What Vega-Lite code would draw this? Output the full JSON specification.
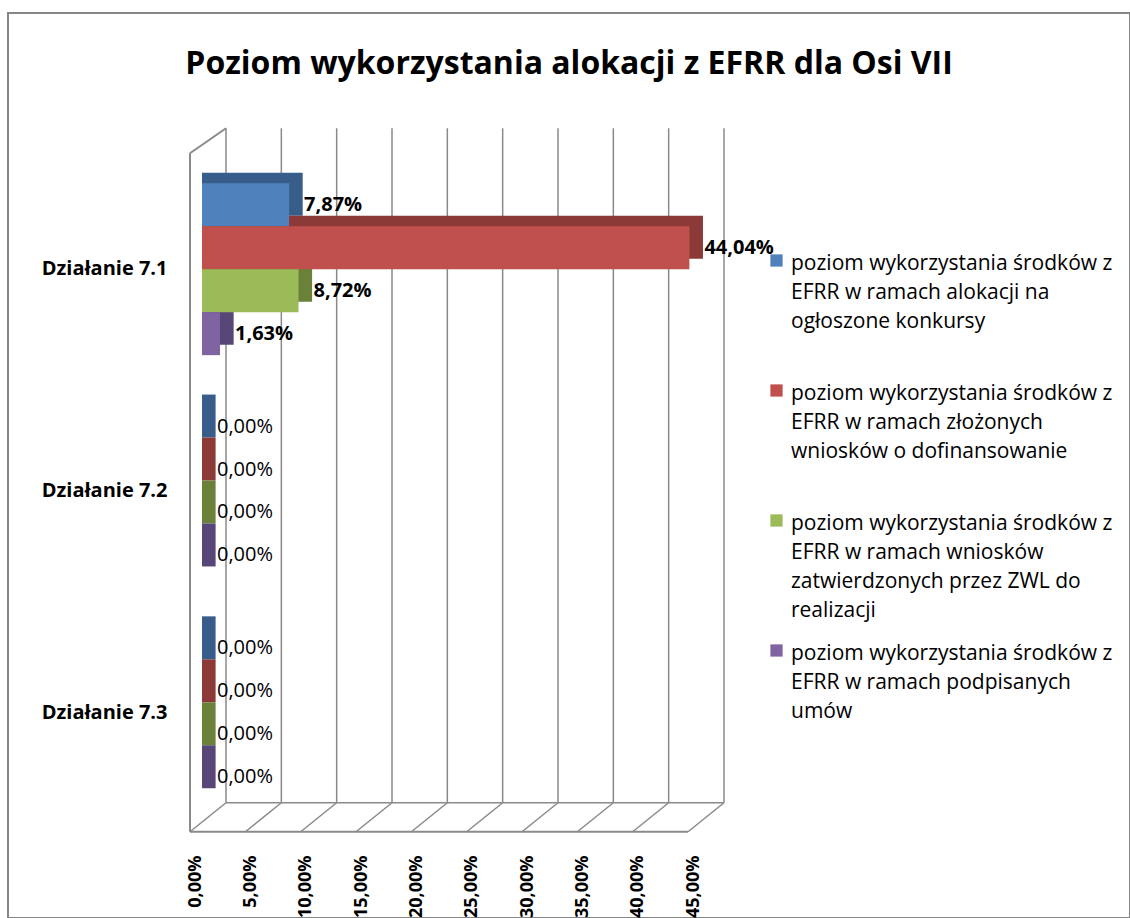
{
  "$schema": "https://vega.github.io/schema/vega-lite/v6.json",
  "width": 1122,
  "height": 905,
  "autosize": {"type": "none"},
  "padding": {"left": 8, "top": 13, "right": 0, "bottom": 0},
  "background": "white",
  "config": {
    "view": {"stroke": "#868686", "strokeWidth": 2},
    "font": "Open Sans",
    "locale": {"number": {"decimal": ",", "thousands": " ", "grouping": [3], "currency": ["", " zł"]}},
    "style": {"guide-label": {"lineHeight": 29}}
  },
  "title": {
    "text": "Poziom wykorzystania alokacji z EFRR dla Osi VII",
    "font": "Open Sans",
    "fontSize": 32,
    "fontWeight": "bold",
    "color": "#000000",
    "anchor": "middle",
    "frame": "group",
    "offset": -68
  },
  "datasets": {
    "bars": [
      {"dzialanie": "Działanie 7.1", "seria": "poziom wykorzystania środków z\nEFRR w ramach alokacji na\nogłoszone konkursy", "wartosc": 0.0787},
      {"dzialanie": "Działanie 7.1", "seria": "poziom wykorzystania środków z\nEFRR w ramach złożonych\nwniosków o dofinansowanie", "wartosc": 0.4404},
      {"dzialanie": "Działanie 7.1", "seria": "poziom wykorzystania środków z\nEFRR w ramach wniosków\nzatwierdzonych przez ZWL do\nrealizacji", "wartosc": 0.0872},
      {"dzialanie": "Działanie 7.1", "seria": "poziom wykorzystania środków z\nEFRR w ramach podpisanych\numów", "wartosc": 0.0163},
      {"dzialanie": "Działanie 7.2", "seria": "poziom wykorzystania środków z\nEFRR w ramach alokacji na\nogłoszone konkursy", "wartosc": 0},
      {"dzialanie": "Działanie 7.2", "seria": "poziom wykorzystania środków z\nEFRR w ramach złożonych\nwniosków o dofinansowanie", "wartosc": 0},
      {"dzialanie": "Działanie 7.2", "seria": "poziom wykorzystania środków z\nEFRR w ramach wniosków\nzatwierdzonych przez ZWL do\nrealizacji", "wartosc": 0},
      {"dzialanie": "Działanie 7.2", "seria": "poziom wykorzystania środków z\nEFRR w ramach podpisanych\numów", "wartosc": 0},
      {"dzialanie": "Działanie 7.3", "seria": "poziom wykorzystania środków z\nEFRR w ramach alokacji na\nogłoszone konkursy", "wartosc": 0},
      {"dzialanie": "Działanie 7.3", "seria": "poziom wykorzystania środków z\nEFRR w ramach złożonych\nwniosków o dofinansowanie", "wartosc": 0},
      {"dzialanie": "Działanie 7.3", "seria": "poziom wykorzystania środków z\nEFRR w ramach wniosków\nzatwierdzonych przez ZWL do\nrealizacji", "wartosc": 0},
      {"dzialanie": "Działanie 7.3", "seria": "poziom wykorzystania środków z\nEFRR w ramach podpisanych\numów", "wartosc": 0}
    ],
    "grid": [{"v": 0}, {"v": 0.05}, {"v": 0.1}, {"v": 0.15}, {"v": 0.2}, {"v": 0.25}, {"v": 0.3}, {"v": 0.35}, {"v": 0.4}, {"v": 0.45}]
  },
  "resolve": {"scale": {"color": "independent", "yOffset": "independent"}},
  "layer": [
    {
      "data": {"name": "grid"},
      "mark": {"type": "rule", "color": "#8a8a8a", "strokeWidth": 1.5, "xOffset": 24, "yOffset": -141, "y2Offset": 90},
      "encoding": {
        "x": {"field": "v", "type": "quantitative", "scale": {"domain": [0, 0.45], "range": [194, 692]},
          "axis": {"orient": "bottom", "offset": -86, "values": [0, 0.05, 0.1, 0.15, 0.2, 0.25, 0.3, 0.35, 0.4, 0.45], "format": ".2%", "labelAngle": -90, "labelPadding": 23, "labelOffset": -7, "labelFlush": false, "labelOverlap": false, "labelFont": "Open Sans", "labelFontSize": 18, "labelFontWeight": "bold", "labelColor": "#000000", "domain": false, "ticks": false, "grid": false, "title": null}},
        "y": {"datum": "Działanie 7.1", "type": "nominal"},
        "y2": {"datum": "Działanie 7.3"}
      }
    },
    {
      "data": {"name": "grid"},
      "mark": {"type": "rule", "color": "#8a8a8a", "strokeWidth": 1.5, "xOffset": -12, "x2Offset": 24, "yOffset": 119, "y2Offset": 90},
      "encoding": {
        "x": {"field": "v", "type": "quantitative"},
        "x2": {"field": "v"},
        "y": {"datum": "Działanie 7.3", "type": "nominal"},
        "y2": {"datum": "Działanie 7.3"}
      }
    },
    {
      "data": {"name": "grid"},
      "transform": [{"filter": "datum.v == 0"}],
      "mark": {"type": "rule", "color": "#8a8a8a", "strokeWidth": 2, "xOffset": -12, "x2Offset": -12, "yOffset": 119, "y2Offset": 119},
      "encoding": {
        "x": {"field": "v", "type": "quantitative"},
        "x2": {"datum": 0.45},
        "y": {"datum": "Działanie 7.3", "type": "nominal"},
        "y2": {"datum": "Działanie 7.3"}
      }
    },
    {
      "data": {"name": "grid"},
      "transform": [{"filter": "datum.v == 0"}],
      "mark": {"type": "rule", "color": "#8a8a8a", "strokeWidth": 1.5, "xOffset": 24, "x2Offset": 24, "yOffset": 90, "y2Offset": 90},
      "encoding": {
        "x": {"field": "v", "type": "quantitative"},
        "x2": {"datum": 0.45},
        "y": {"datum": "Działanie 7.3", "type": "nominal"},
        "y2": {"datum": "Działanie 7.3"}
      }
    },
    {
      "data": {"name": "grid"},
      "transform": [{"filter": "datum.v == 0"}],
      "mark": {"type": "rule", "color": "#8a8a8a", "strokeWidth": 2, "xOffset": -12, "x2Offset": -12, "yOffset": -116, "y2Offset": 119},
      "encoding": {
        "x": {"field": "v", "type": "quantitative"},
        "x2": {"field": "v"},
        "y": {"datum": "Działanie 7.1", "type": "nominal"},
        "y2": {"datum": "Działanie 7.3"}
      }
    },
    {
      "data": {"name": "grid"},
      "transform": [{"filter": "datum.v == 0"}],
      "mark": {"type": "rule", "color": "#8a8a8a", "strokeWidth": 2, "xOffset": -12, "x2Offset": 24, "yOffset": -116, "y2Offset": -141},
      "encoding": {
        "x": {"field": "v", "type": "quantitative"},
        "x2": {"field": "v"},
        "y": {"datum": "Działanie 7.1", "type": "nominal"},
        "y2": {"datum": "Działanie 7.1"}
      }
    },
    {
      "data": {"name": "bars"},
      "mark": {"type": "bar", "orient": "horizontal", "xOffset": 13.6},
      "encoding": {
        "y": {"field": "dzialanie", "type": "nominal"},
        "yOffset": {"field": "seria", "type": "nominal", "sort": null, "scale": {"range": [-10.5, 161.4]}},
        "x": {"field": "wartosc", "type": "quantitative", "stack": null},
        "color": {"field": "seria", "type": "nominal", "sort": null, "scale": {"range": ["#385D8A", "#8C3A38", "#6B8139", "#594679"]}, "legend": null}
      }
    },
    {
      "data": {"name": "bars"},
      "mark": {"type": "bar", "orient": "horizontal"},
      "encoding": {
        "y": {"field": "dzialanie", "type": "nominal", "sort": null,
          "scale": {"range": [137, 819], "paddingInner": 0.225, "paddingOuter": 0.15},
          "axis": {"orient": "left", "offset": -182, "labelPadding": 23, "labelFont": "Open Sans", "labelFontSize": 20, "labelFontWeight": "bold", "labelColor": "#000000", "domain": false, "ticks": false, "grid": false, "title": null}},
        "yOffset": {"field": "seria", "type": "nominal", "sort": null},
        "x": {"field": "wartosc", "type": "quantitative", "stack": null},
        "color": {"field": "seria", "type": "nominal", "sort": null,
          "scale": {"range": ["#4F81BD", "#C0504D", "#9BBB59", "#8064A2"]},
          "legend": {"orient": "none", "legendX": 758, "legendY": 237, "title": null, "symbolType": "square", "symbolSize": 150, "symbolStrokeWidth": 0, "labelFont": "Open Sans", "labelFontSize": 21, "labelColor": "#000000", "labelLimit": 500, "labelOffset": 4, "labelBaseline": "top", "rowPadding": 19,
            "labelExpr": "split(datum.label + (length(split(datum.label, '\\n')) < 4 ? '\\n ' : ''), '\\n')",
            "encode": {"labels": {"update": {"dy": {"value": -8}}}}}}
      }
    },
    {
      "data": {"name": "bars"},
      "transform": [{"filter": "datum.wartosc > 0"}],
      "mark": {"type": "text", "align": "left", "baseline": "middle", "dx": 15, "font": "Open Sans", "fontSize": 20, "fontWeight": "bold", "color": "#000000"},
      "encoding": {
        "y": {"field": "dzialanie", "type": "nominal"},
        "yOffset": {"field": "seria", "type": "nominal", "sort": null},
        "x": {"field": "wartosc", "type": "quantitative"},
        "text": {"field": "wartosc", "type": "quantitative", "format": ".2%"}
      }
    },
    {
      "data": {"name": "bars"},
      "transform": [{"filter": "datum.wartosc == 0"}],
      "mark": {"type": "text", "align": "left", "baseline": "middle", "dx": 15, "font": "Open Sans", "fontSize": 20, "color": "#000000"},
      "encoding": {
        "y": {"field": "dzialanie", "type": "nominal"},
        "yOffset": {"field": "seria", "type": "nominal", "sort": null},
        "x": {"field": "wartosc", "type": "quantitative"},
        "text": {"field": "wartosc", "type": "quantitative", "format": ".2%"}
      }
    }
  ]
}
